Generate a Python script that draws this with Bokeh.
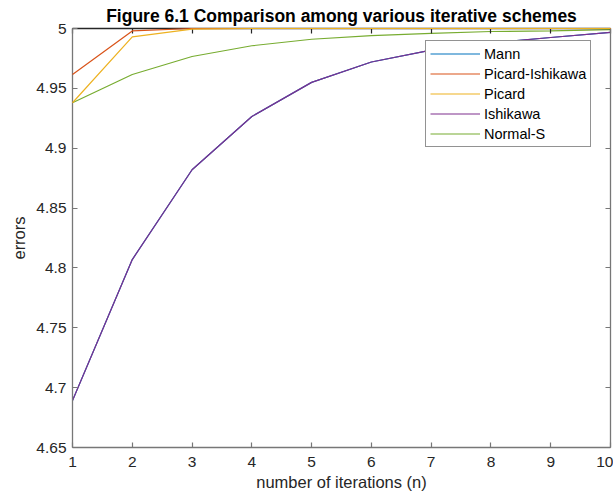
from bokeh.plotting import figure
from bokeh.models import Range1d, FixedTicker, CustomJSTickFormatter, LinearAxis, Legend, LegendItem
from bokeh.embed import file_html
from bokeh.resources import INLINE

n = [1, 2, 3, 4, 5, 6, 7, 8, 9, 10]
mann = [4.6892, 4.807, 4.882, 4.9265, 4.955, 4.972, 4.982, 4.988, 4.9925, 4.9967]
picard_ishikawa = [4.9616, 4.998, 5.0, 5.0, 5.0, 5.0, 5.0, 5.0, 5.0, 5.0]
picard = [4.938, 4.993, 4.9995, 5.0, 5.0, 5.0, 5.0, 5.0, 5.0, 5.0]
ishikawa = [4.6892, 4.807, 4.882, 4.9265, 4.955, 4.972, 4.982, 4.988, 4.9925, 4.9967]
normal_s = [4.938, 4.9616, 4.9766, 4.9856, 4.991, 4.994, 4.996, 4.9975, 4.998, 4.999]

series_names = ["Mann", "Picard-Ishikawa", "Picard", "Ishikawa", "Normal-S"]
series_values = [mann, picard_ishikawa, picard, ishikawa, normal_s]
colors = ["#0072BD", "#D95319", "#EDB120", "#7E2F8E", "#77AC30"]
on_top = [False, True, True, False, False]

x_ticks = [1, 2, 3, 4, 5, 6, 7, 8, 9, 10]
y_ticks = [4.65, 4.7, 4.75, 4.8, 4.85, 4.9, 4.95, 5.0]

FONT = "Liberation Sans"
AXG = "#777777"

p = figure(width=613, height=500, output_backend="svg", toolbar_location=None,
           x_range=Range1d(1, 10), y_range=Range1d(4.65, 5.0),
           min_border_left=72, min_border_right=3, min_border_top=28, min_border_bottom=53,
           title="Figure 6.1 Comparison among various iterative schemes")
p.title.align = "center"
p.title.text_font = FONT
p.title.text_font_size = "17.5px"
p.title.text_font_style = "bold"
p.title.text_color = "#000000"
p.title.offset = 0
p.title.standoff = 5
p.outline_line_color = None
p.xgrid.visible = False
p.ygrid.visible = False

renderers = []
for name, vals, c, top_lvl in zip(series_names, series_values, colors, on_top):
    r = p.line(n, vals, line_color=c, line_width=1.2)
    if top_lvl:
        r.level = "overlay"
    renderers.append((name, r))

def style_axis(ax, color, labels=True):
    ax.axis_line_color = color
    ax.axis_line_width = 1.3
    ax.major_tick_line_color = color
    ax.major_tick_line_width = 1.2
    ax.major_tick_in = 5
    ax.major_tick_out = 0
    ax.minor_tick_line_color = None
    ax.major_label_text_font = FONT
    ax.major_label_text_font_size = "15.5px"
    ax.major_label_text_color = "#262626"
    ax.axis_label_text_font = FONT
    ax.axis_label_text_font_size = "16.5px"
    ax.axis_label_text_font_style = "normal"
    ax.axis_label_text_color = "#262626"
    if not labels:
        ax.formatter = CustomJSTickFormatter(code="return '';")
        ax.major_label_standoff = 0

p.xaxis.ticker = FixedTicker(ticks=x_ticks)
p.yaxis.ticker = FixedTicker(ticks=y_ticks)
p.yaxis.formatter = CustomJSTickFormatter(code="return String(Math.round(tick*100)/100);")
p.xaxis.axis_label = "number of iterations (n)"
p.yaxis.axis_label = "errors"
style_axis(p.xaxis[0], AXG)
style_axis(p.yaxis[0], AXG)
p.xaxis.major_label_standoff = 9
p.yaxis.major_label_standoff = 6
p.xaxis.axis_label_standoff = 3
p.yaxis.axis_label_standoff = 5

top = LinearAxis(ticker=FixedTicker(ticks=x_ticks))
style_axis(top, "#262626", labels=False)
p.add_layout(top, "above")
right = LinearAxis(ticker=FixedTicker(ticks=y_ticks))
style_axis(right, AXG, labels=False)
p.add_layout(right, "right")

legend = Legend(items=[LegendItem(label=nm, renderers=[r]) for nm, r in renderers],
                location=(353, 300))
legend.border_line_color = "#262626"
legend.border_line_width = 1.2
legend.background_fill_color = "white"
legend.background_fill_alpha = 1
legend.label_text_font = FONT
legend.label_text_font_size = "14.5px"
legend.label_text_color = "#000000"
legend.glyph_width = 50
legend.glyph_height = 17
legend.label_height = 17
legend.spacing = 3
legend.padding = 4
legend.margin = 0
legend.label_standoff = 4
p.add_layout(legend, "center")

open("out.html", "w").write(file_html(p, INLINE))
